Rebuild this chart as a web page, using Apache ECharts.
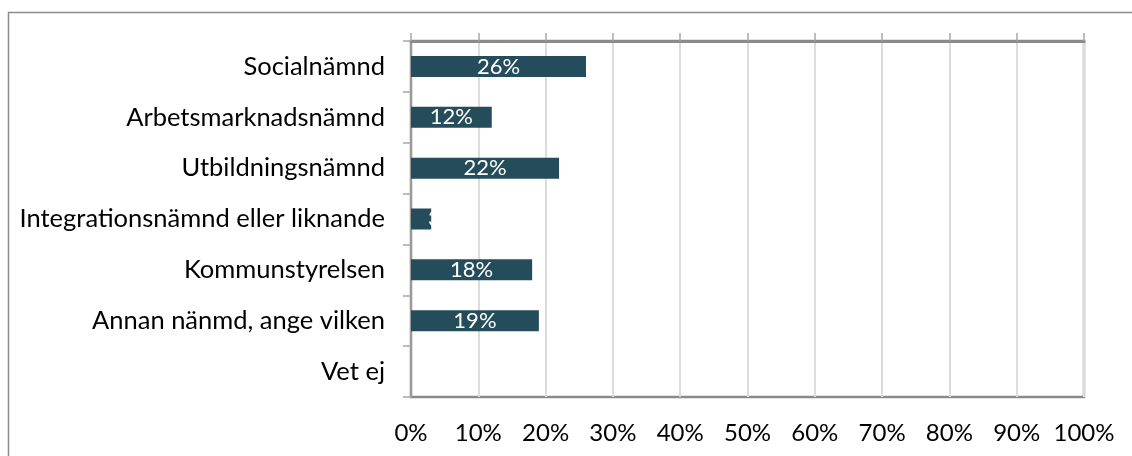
<!DOCTYPE html>
<html>
<head>
<meta charset="utf-8">
<script src="https://cdn.jsdelivr.net/npm/echarts@6/dist/echarts.min.js"></script>
<style>
  html, body { margin: 0; padding: 0; background: #fff; }
  #chart { width: 1132px; height: 456px; }
</style>
</head>
<body>
<div id="chart"></div>
<script>
// answers, top to bottom
const categories = [
  'Socialnämnd',
  'Arbetsmarknadsnämnd',
  'Utbildningsnämnd',
  'Integrationsnämnd eller liknande',
  'Kommunstyrelsen',
  'Annan nänmd, ange vilken',
  'Vet ej'
];
const shares = [26, 12, 22, 3, 18, 19, 0];
const tickLabels = ['0%', '10%', '20%', '30%', '40%', '50%', '60%', '70%', '80%', '90%', '100%'];

const fontName = 'Lato';
const chart = echarts.init(document.getElementById('chart'));

// the tiny bar's label spills out to the right like in the original
const barData = shares.map((v) => v > 0 && v < 5
  ? { value: v, label: { position: [17, '50%'], align: 'left', verticalAlign: 'middle' } }
  : v);

const option = {
  animation: false,
  backgroundColor: '#fff',
  graphic: [{
    type: 'rect',
    shape: { x: 8.5, y: 12.5, width: 1300, height: 600 },
    style: { fill: 'none', stroke: '#8c8c8c', lineWidth: 1.5 },
    silent: true
  }],
  grid: {
    left: 411,
    right: 48,
    top: 41,
    bottom: 59,
    show: true,
    borderColor: '#8a8a8a',
    borderWidth: 2.5,
    backgroundColor: 'transparent'
  },
  xAxis: [
    {
      type: 'value',
      position: 'top',
      min: 0,
      max: 100,
      interval: 10,
      axisLine: { show: true, lineStyle: { color: '#8a8a8a', width: 3 } },
      axisTick: { show: true, inside: false, length: 8, lineStyle: { color: '#a6a6a6', width: 1.5 } },
      axisLabel: { show: false },
      splitLine: { show: true, lineStyle: { color: '#dcdcdc', width: 2 } }
    },
    {
      type: 'value',
      position: 'bottom',
      min: 0,
      max: 100,
      interval: 10,
      axisLine: { show: false },
      axisTick: { show: false },
      splitLine: { show: false },
      axisLabel: {
        show: true,
        margin: 24,
        color: '#000',
        fontFamily: fontName,
        fontSize: 24,
        formatter: (v) => tickLabels[Math.round(v / 10)]
      }
    }
  ],
  yAxis: {
    type: 'category',
    data: categories,
    inverse: true,
    axisLine: { show: true, lineStyle: { color: '#999', width: 2 } },
    axisTick: { show: true, length: 8, lineStyle: { color: '#a6a6a6', width: 1.5 } },
    axisLabel: {
      margin: 26,
      color: '#000',
      fontFamily: fontName,
      fontSize: 25.5
    },
    splitLine: { show: false }
  },
  series: [{
    type: 'bar',
    xAxisIndex: 0,
    data: barData,
    barWidth: 21,
    itemStyle: { color: '#244c5a' },
    label: {
      show: true,
      position: 'inside',
      color: '#fff',
      fontFamily: fontName,
      fontSize: 22,
      formatter: (p) => p.value ? p.value + '%' : ''
    }
  }]
};

chart.setOption(option);
</script>
</body>
</html>
